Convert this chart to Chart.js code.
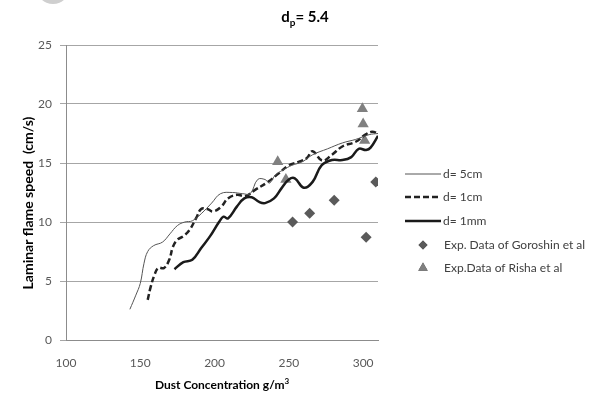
<!DOCTYPE html>
<html>
<head>
<meta charset="utf-8">
<script src="https://cdn.jsdelivr.net/npm/chart.js@4.4.1/dist/chart.umd.min.js"></script>
<style>
  html, body { margin: 0; padding: 0; background: #fff; }
  .wrap { position: relative; width: 593px; height: 394px; overflow: hidden; }
  .blob { position: absolute; left: 36px; top: -30px; width: 34px; height: 34px; border-radius: 50%; background: #cfcfcf; }
</style>
</head>
<body>
<div class="wrap">
  <div class="blob"></div>
  <canvas id="chart" width="593" height="394"></canvas>
</div>
<script>
// Datos
const xTicks = [100, 150, 200, 250, 300];
const yTicks = [0, 5, 10, 15, 20, 25];

const d5cmX = [143, 147, 150, 152.5, 155, 159, 165, 170, 175, 180, 185, 191, 198, 204, 212, 219, 224, 229, 234, 237, 241, 246, 252, 259, 266, 276, 286, 295, 304, 310];
const d5cmY = [2.6, 3.8, 4.8, 6.5, 7.5, 8.0, 8.3, 9.0, 9.7, 10.0, 10.1, 10.7, 11.6, 12.4, 12.5, 12.4, 12.4, 13.6, 13.6, 13.3, 14.0, 14.4, 14.8, 15.1, 15.7, 16.2, 16.7, 17.0, 17.4, 17.5];

const d1cmX = [155, 157, 159.5, 162, 166, 169.5, 172, 175, 179, 183, 187.5, 191, 195, 199, 204.5, 209, 215, 221, 227, 236, 243, 250, 256.5, 262, 266, 272.5, 279, 286, 295, 301.5, 306, 310];
const d1cmY = [3.4, 4.5, 5.5, 6.1, 6.1, 6.8, 7.9, 8.5, 8.8, 9.3, 10.3, 11.1, 11.1, 10.9, 11.3, 12.0, 12.3, 12.2, 12.7, 13.4, 14.1, 14.8, 15.1, 15.4, 16.0, 15.2, 15.7, 16.4, 16.8, 17.4, 17.65, 17.5];

const d1mmX = [173, 179, 185, 191, 197, 203, 206, 209, 215, 220, 225, 230, 234, 240, 245, 250, 254, 260, 266, 272, 279, 286, 292, 297, 302, 305, 310];
const d1mmY = [6.0, 6.6, 6.8, 7.8, 8.8, 10.0, 10.45, 10.3, 11.3, 12.0, 12.1, 11.7, 11.6, 12.0, 12.85, 13.6, 13.7, 12.9, 13.4, 14.8, 15.25, 15.25, 15.5, 16.2, 16.1, 16.3, 17.3];

const goroshinX = [252.5, 264, 280.5, 302, 308.5];
const goroshinY = [10.0, 10.75, 11.85, 8.7, 13.4];

const rishaX = [242.5, 248, 299.5, 300, 301];
const rishaY = [15.1, 13.6, 19.6, 18.3, 16.9];

const FONT = 'Lato, "Open Sans", sans-serif';

function pts(xs, ys) {
  return xs.map((x, i) => ({ x: x, y: ys[i] }));
}

// Titulo, titulos de ejes y leyenda dibujados a mano
const decor = {
  id: 'decor',
  afterDraw(chart) {
    const ctx = chart.ctx;
    const area = chart.chartArea;
    ctx.save();

    // titulo d_p = 5.4
    ctx.fillStyle = '#000';
    ctx.textBaseline = 'alphabetic';
    ctx.textAlign = 'left';
    ctx.font = 'bold 15px ' + FONT;
    const wD = ctx.measureText('d').width;
    ctx.font = 'bold 10px ' + FONT;
    const wP = ctx.measureText('p').width;
    ctx.font = 'bold 15px ' + FONT;
    const wRest = ctx.measureText('= 5.4').width;
    let tx = 305 - (wD + wP + wRest) / 2;
    const ty = 22;
    ctx.fillText('d', tx, ty);
    ctx.font = 'bold 10px ' + FONT;
    ctx.fillText('p', tx + wD, ty + 4);
    ctx.font = 'bold 15px ' + FONT;
    ctx.fillText('= 5.4', tx + wD + wP, ty);

    // titulo eje X
    ctx.font = 'bold 12px ' + FONT;
    ctx.textBaseline = 'middle';
    const xt = 'Dust Concentration g/m';
    const wx = ctx.measureText(xt).width;
    ctx.font = 'bold 8px ' + FONT;
    const w3 = ctx.measureText('3').width;
    const cx = (area.left + area.right) / 2;
    let sx = cx - (wx + w3) / 2;
    ctx.font = 'bold 12px ' + FONT;
    ctx.fillText(xt, sx, 385);
    ctx.font = 'bold 8px ' + FONT;
    ctx.fillText('3', sx + wx, 381);

    // titulo eje Y
    ctx.save();
    ctx.translate(28, 203);
    ctx.rotate(-Math.PI / 2);
    ctx.font = 'bold 14px ' + FONT;
    ctx.textAlign = 'center';
    ctx.fillText('Laminar flame speed  (cm/s)', 0, 0);
    ctx.restore();

    // leyenda
    const rows = [174, 197, 221, 245, 268];
    ctx.font = '12px ' + FONT;
    ctx.textAlign = 'left';
    ctx.textBaseline = 'middle';
    chart.data.datasets.forEach((ds, i) => {
      const y = rows[i];
      if (ds.showLine) {
        ctx.save();
        ctx.strokeStyle = ds.borderColor;
        ctx.lineWidth = ds.borderWidth;
        ctx.setLineDash(ds.borderDash || []);
        ctx.beginPath();
        ctx.moveTo(405, y);
        ctx.lineTo(441, y);
        ctx.stroke();
        ctx.restore();
      } else {
        Chart.helpers.drawPoint(ctx, {
          pointStyle: ds.pointStyle,
          radius: ds.pointRadius - 1,
          borderWidth: 0
        }, 423, y);
        ctx.fillStyle = ds.pointBackgroundColor;
        ctx.fill();
      }
      ctx.fillStyle = '#404040';
      ctx.fillText(ds.label, ds.showLine ? 443 : 444, y);
    });
    ctx.restore();
  }
};

const ctx = document.getElementById('chart').getContext('2d');
new Chart(ctx, {
  type: 'scatter',
  data: {
    datasets: [
      {
        label: 'd= 5cm',
        data: pts(d5cmX, d5cmY),
        showLine: true,
        borderColor: '#555555',
        borderWidth: 1,
        pointRadius: 0,
        tension: 0.4
      },
      {
        label: 'd= 1cm',
        data: pts(d1cmX, d1cmY),
        showLine: true,
        borderColor: '#222222',
        borderWidth: 2.5,
        borderDash: [6, 3],
        pointRadius: 0,
        tension: 0.4
      },
      {
        label: 'd= 1mm',
        data: pts(d1mmX, d1mmY),
        showLine: true,
        borderColor: '#1a1a1a',
        borderWidth: 2.5,
        pointRadius: 0,
        tension: 0.4
      },
      {
        label: 'Exp. Data of Goroshin et al',
        data: pts(goroshinX, goroshinY),
        showLine: false,
        pointStyle: 'rectRot',
        pointRadius: 5.5,
        pointBackgroundColor: '#5a5a5a',
        pointBorderWidth: 0,
        borderColor: '#5a5a5a'
      },
      {
        label: 'Exp.Data of Risha et al',
        data: pts(rishaX, rishaY),
        showLine: false,
        pointStyle: 'triangle',
        pointRadius: 6.5,
        pointBackgroundColor: '#808080',
        pointBorderWidth: 0,
        borderColor: '#808080'
      }
    ]
  },
  options: {
    responsive: false,
    animation: false,
    layout: { padding: { left: 0, right: 215, top: 45, bottom: 0 } },
    plugins: {
      legend: { display: false },
      title: { display: false },
      tooltip: { enabled: false }
    },
    scales: {
      x: {
        type: 'linear',
        min: 100,
        max: 310,
        afterBuildTicks: (scale) => { scale.ticks = xTicks.map(v => ({ value: v })); },
        afterFit: (scale) => { scale.height = 54; },
        grid: { display: false, drawTicks: false },
        border: { display: true, color: '#8c8c8c', width: 1 },
        ticks: { padding: 16, color: '#595959', font: { family: FONT, size: 12 } }
      },
      y: {
        min: 0,
        max: 25,
        afterBuildTicks: (scale) => { scale.ticks = yTicks.map(v => ({ value: v })); },
        afterFit: (scale) => { scale.width = 66; },
        grid: { color: '#a6a6a6', lineWidth: 1, drawTicks: true, tickLength: 6 },
        border: { display: true, color: '#8c8c8c', width: 1 },
        ticks: { padding: 8, color: '#595959', font: { family: FONT, size: 12 } }
      }
    }
  },
  plugins: [decor]
});
</script>
</body>
</html>
